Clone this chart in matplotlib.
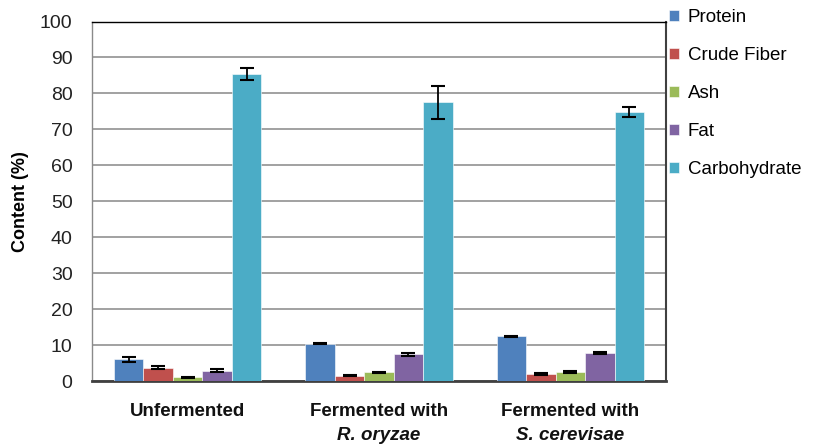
import numpy as np
import matplotlib
matplotlib.use("Agg")
import matplotlib.pyplot as plt

plt.rcParams['font.family'] = ['Liberation Sans', 'DejaVu Sans']

# groups and components
groups = ["Unfermented", "Fermented with", "Fermented with"]
organisms = ["", "R. oryzae", "S. cerevisae"]
components = ["Protein", "Crude Fiber", "Ash", "Fat", "Carbohydrate"]
colors = ["#4F81BD", "#C0504D", "#9BBB59", "#8064A2", "#4BACC6"]

# content (%) per component, one value per group
protein = [6.1, 10.4, 12.4]
fiber = [3.7, 1.5, 1.9]
ash = [1.0, 2.4, 2.5]
fat = [2.9, 7.4, 7.9]
carb = [85.5, 77.5, 74.8]

protein_err = [0.7, 0.15, 0.25]
fiber_err = [0.4, 0.2, 0.2]
ash_err = [0.2, 0.2, 0.2]
fat_err = [0.4, 0.5, 0.3]
carb_err = [1.7, 4.6, 1.5]

values = [protein, fiber, ash, fat, carb]
errors = [protein_err, fiber_err, ash_err, fat_err, carb_err]

fig = plt.figure(figsize=(8.2, 4.48), dpi=100)
ax = fig.add_axes([92/820, 1-381/448, (666-92)/820, (381-21.5)/448])

x = np.arange(len(groups))
w = 0.154
for i, (vals, errs) in enumerate(zip(values, errors)):
    ax.bar(x + (i - 2) * w, vals, w, color=colors[i], label=components[i],
           edgecolor="white", linewidth=0.4, zorder=3,
           yerr=errs, error_kw=dict(ecolor="black", elinewidth=1.3, capsize=5, capthick=1.5, zorder=4))

ax.set_xlim(-0.5, 2.5)
ax.set_ylim(0, 100)
ax.set_yticks(np.arange(0, 101, 10))
ax.yaxis.grid(True, color="#9a9a9a", linewidth=1.3, zorder=0)
ax.set_axisbelow(True)
ax.tick_params(axis="y", length=0, pad=14, labelsize=14, labelcolor="#222222")
ax.tick_params(axis="x", length=0, pad=16, labelsize=13.5)
ax.set_xticks(x)
ax.set_xticklabels(groups, fontweight="bold", color="#111111")
for xi, org in zip(x, organisms):
    if org:
        ax.text(xi, -0.127, org, transform=ax.get_xaxis_transform(), ha="center", va="top",
                fontsize=13.5, fontweight="bold", fontstyle="italic", color="#111111")

ax.set_ylabel("Content (%)", fontsize=13, fontweight="bold", labelpad=8)

ax.spines["top"].set_color("black")
ax.spines["top"].set_linewidth(1.0)
ax.spines["right"].set_color("#404040")
ax.spines["right"].set_linewidth(1.5)
ax.spines["bottom"].set_color("#404040")
ax.spines["bottom"].set_linewidth(2.0)
ax.spines["left"].set_color("#8a8a8a")
ax.spines["left"].set_linewidth(1.0)

fig.legend(loc="upper left", bbox_to_anchor=(669/820, 1 - 9/448), frameon=False,
           handlelength=0.55, handleheight=0.55, handletextpad=0.45,
           labelspacing=1.12, borderpad=0, borderaxespad=0, fontsize=13.5)

fig.savefig("out.png", dpi=100)
